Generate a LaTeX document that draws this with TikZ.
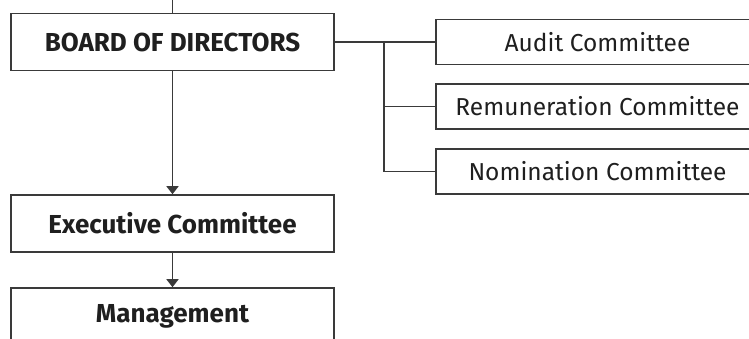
\documentclass[tikz,border=0pt]{standalone}
\usepackage{fontspec}
\setmainfont{Fira Sans}
\usetikzlibrary{arrows.meta}
\definecolor{linegray}{HTML}{3A3A3A}
\begin{document}
\begin{tikzpicture}[x=1pt,y=-1pt,
	box/.style={draw=linegray,line width=1.6pt,minimum width=323pt,minimum height=57pt,inner sep=0pt,font=\fontsize{26}{30}\selectfont\bfseries,text=black!88},
	subbox/.style={draw=linegray,line width=1.6pt,minimum width=323pt,minimum height=45pt,inner sep=0pt,font=\fontsize{24.5}{28}\selectfont,text=black!88},
	link/.style={draw=linegray,line width=1.6pt},
	arrow/.style={link,-{Triangle[length=8pt,width=12pt]}}]
		
		\useasboundingbox (0,0) rectangle (749,338);
		\clip (0,0) rectangle (749,338);
		
		% left column
		\node[box] (board) at (172.5,42) {BOARD OF DIRECTORS};
		\node[box] (exec) at (172.5,223.5) {Executive Committee};
		\node[box] (mgmt) at (172.5,316.5) {Management};
		
		% committees
		\node[subbox] (audit) at (597.5,42) {Audit Committee};
		\node[subbox] (remun) at (597.5,106.5) {Remuneration Committee};
		\node[subbox] (nomin) at (597.5,171.5) {Nomination Committee};
		
		\coordinate (top) at (172.5,0);
		\coordinate (fork) at (384,42);
		
		\draw[link] (top)--(board.north);
		\draw[arrow] (board.south)--(exec.north);
		\draw[arrow] (exec.south)--(mgmt.north);
		
		\draw[link] (board.east)--(audit.west);
		\draw[link] (fork)|-(remun.west);
		\draw[link] (fork)|-(nomin.west);
		
\end{tikzpicture}
\end{document}
